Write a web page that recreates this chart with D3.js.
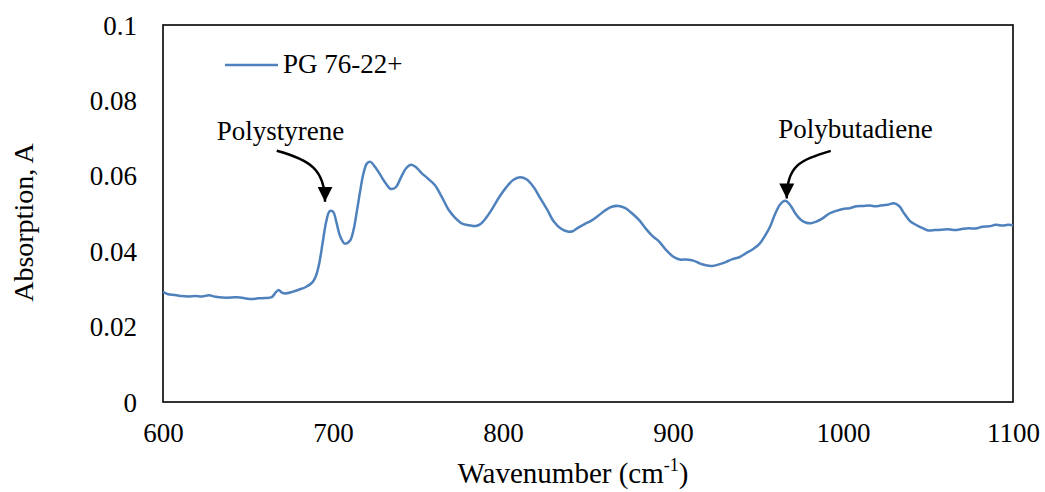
<!DOCTYPE html>
<html>
<head>
<meta charset="utf-8">
<script src="https://cdn.jsdelivr.net/npm/d3@7/dist/d3.min.js"></script>
<style>
  html, body { margin: 0; padding: 0; background: #fff; }
  svg { display: block; }
  text { font-family: "Liberation Serif", "Times New Roman", serif; fill: #000; }
</style>
</head>
<body>
<svg id="chart" width="1045" height="492"></svg>
<script>
// FTIR spectrum of the PG 76-22+ binder
const wavenumber = [
  600, 603, 607, 611, 615, 619, 623, 627, 631, 635, 640, 644, 648, 652, 656, 660, 664, 666, 668, 670,
  672, 676, 680, 684, 688, 690, 692, 694, 696, 698, 700, 702, 704, 707, 710, 712, 714, 716, 718, 720,
  722, 725, 728, 731, 734, 737, 740, 743, 746, 749, 752, 756, 760, 764, 768, 772, 776, 780, 784, 787,
  790, 794, 798, 802, 806, 810, 814, 818, 822, 826, 830, 834, 838, 841, 844, 848, 852, 856, 860, 864,
  868, 872, 876, 880, 884, 888, 892, 896, 900, 904, 908, 912, 916, 920, 923, 927, 931, 935, 939, 943,
  947, 951, 954, 957, 960, 963, 966, 969, 972, 975, 978, 981, 984, 988, 992, 996, 1000, 1004, 1008, 1012,
  1016, 1019, 1022, 1026, 1030, 1033, 1036, 1039, 1042, 1046, 1050, 1054, 1058, 1062, 1066, 1070, 1074, 1078, 1082, 1086,
  1090, 1094, 1097, 1100
];
const absorption = [
  0.0292, 0.0286, 0.0284, 0.0281, 0.0280, 0.0281, 0.0280, 0.0283, 0.0279, 0.0277, 0.0277, 0.0278, 0.0275, 0.0273, 0.0275, 0.0276, 0.0278, 0.0289, 0.0297, 0.0290,
  0.0288, 0.0292, 0.0298, 0.0305, 0.0318, 0.0335, 0.0370, 0.0425, 0.0478, 0.0506, 0.0505, 0.0477, 0.0442, 0.0420, 0.0428, 0.0455, 0.0505, 0.0560, 0.0608, 0.0633,
  0.0637, 0.0622, 0.0601, 0.0580, 0.0565, 0.0570, 0.0596, 0.0620, 0.0629, 0.0622, 0.0608, 0.0592, 0.0575, 0.0544, 0.0510, 0.0488, 0.0473, 0.0469, 0.0467, 0.0473,
  0.0488, 0.0515, 0.0545, 0.0570, 0.0589, 0.0596, 0.0590, 0.0570, 0.0540, 0.0510, 0.0478, 0.0460, 0.0452, 0.0453, 0.0462, 0.0472, 0.0481, 0.0494, 0.0508, 0.0518,
  0.0520, 0.0514, 0.0500, 0.0483, 0.0460, 0.0440, 0.0425, 0.0403, 0.0386, 0.0378, 0.0378, 0.0375, 0.0367, 0.0362, 0.0361, 0.0365, 0.0371, 0.0379, 0.0384, 0.0395,
  0.0405, 0.0420, 0.0440, 0.0464, 0.0498, 0.0524, 0.0534, 0.0522, 0.0500, 0.0484, 0.0476, 0.0474, 0.0478, 0.0487, 0.0500, 0.0507, 0.0512, 0.0514, 0.0519, 0.0520,
  0.0521, 0.0519, 0.0521, 0.0523, 0.0527, 0.0520, 0.0500, 0.0482, 0.0472, 0.0463, 0.0455, 0.0456, 0.0457, 0.0458, 0.0456, 0.0459, 0.0461, 0.0460, 0.0465, 0.0466,
  0.0470, 0.0468, 0.0470, 0.0469
];
const seriesName = "PG 76-22+";

const xTicks = [600, 700, 800, 900, 1000, 1100];
const yTicks = [0, 0.02, 0.04, 0.06, 0.08, 0.1];
const yTickLabels = ["0", "0.02", "0.04", "0.06", "0.08", "0.1"];

// Peak annotations: label text and the point the arrow tip lands on
const annotationLabels = ["Polystyrene", "Polybutadiene"];
const annotationWavenumber = [695.3, 966.9];
const annotationAbsorption = [0.0531, 0.0540];

const svg = d3.select("#chart");
const margin = { left: 163, right: 32, top: 25, bottom: 90 };
const W = 1045, H = 492;
const x = d3.scaleLinear().domain([600, 1100]).range([margin.left, W - margin.right]);
const y = d3.scaleLinear().domain([0, 0.1]).range([H - margin.bottom, margin.top]);

const data = wavenumber.map((w, i) => ({ w, a: absorption[i] }));

// Axes (labels only, no tick marks)
const xAxis = svg.append("g")
  .attr("transform", `translate(0,${y(0)})`)
  .call(d3.axisBottom(x).tickValues(xTicks).tickSize(0).tickPadding(0).tickFormat(d3.format("d")));
xAxis.select(".domain").remove();
xAxis.selectAll("text")
  .attr("y", null).attr("dy", null)
  .attr("transform", "translate(0,40)")
  .style("font-size", "27px")
  .style("font-family", "Liberation Serif, serif");

const yAxis = svg.append("g")
  .attr("transform", `translate(${margin.left},0)`)
  .call(d3.axisLeft(y).tickValues(yTicks).tickSize(0).tickPadding(26)
    .tickFormat((d, i) => yTickLabels[i]));
yAxis.select(".domain").remove();
yAxis.selectAll("text")
  .attr("dy", "0.34em")
  .style("font-size", "27px")
  .style("font-family", "Liberation Serif, serif");

// Plot frame
svg.append("rect")
  .attr("x", x(600)).attr("y", y(0.1))
  .attr("width", x(1100) - x(600)).attr("height", y(0) - y(0.1))
  .attr("fill", "none").attr("stroke", "#000").attr("stroke-width", 1.6);

// Spectrum
const line = d3.line().x(d => x(d.w)).y(d => y(d.a)).curve(d3.curveCatmullRom.alpha(0.5));
svg.append("path")
  .datum(data)
  .attr("d", line)
  .attr("fill", "none")
  .attr("stroke", "#4F81BD")
  .attr("stroke-width", 2.5)
  .attr("stroke-linejoin", "round");

// Legend
const legend = svg.append("g").attr("transform", "translate(225,65)");
legend.append("line").attr("x1", 0).attr("x2", 53).attr("y1", 0).attr("y2", 0)
  .attr("stroke", "#4F81BD").attr("stroke-width", 2.5);
legend.append("text").attr("x", 58).attr("y", 8).style("font-size", "27px").text(seriesName);

// Axis titles
svg.append("text")
  .attr("x", (x(600) + x(1100)) / 2 - 15).attr("y", 483)
  .attr("text-anchor", "middle")
  .style("font-size", "29px")
  .html('Wavenumber (cm<tspan dy="-12" font-size="18">-1</tspan><tspan dy="12">)</tspan>');

svg.append("text")
  .attr("transform", `translate(33,${(y(0) + y(0.1)) / 2 + 9}) rotate(-90)`)
  .attr("text-anchor", "middle")
  .style("font-size", "28px")
  .text("Absorption, A");

// Arrow annotations
const defs = svg.append("defs");
defs.append("marker")
  .attr("id", "arrowhead")
  .attr("viewBox", "0 0 10 10")
  .attr("refX", 10).attr("refY", 5)
  .attr("markerWidth", 15).attr("markerHeight", 15)
  .attr("markerUnits", "userSpaceOnUse")
  .attr("orient", "auto")
  .append("path").attr("d", "M0,0 L10,5 L0,10 Z").attr("fill", "#000");

// Each arrow curves from under its label down onto the peak
const arrowShapes = [
  { dx0: -48.3, dy0: -51, c1x: -15, c1y: -42, c2x: 0, c2y: -32 },
  { dx0: 44, dy0: -47.6, c1x: 13, c1y: -38, c2x: 0, c2y: -33 }
];
const labelOffsets = [{ dx: -108.3, dy: -61.7 }, { dx: -8.4, dy: -60 }];

annotationLabels.forEach((label, i) => {
  const tx = x(annotationWavenumber[i]);
  const ty = y(annotationAbsorption[i]);
  const s = arrowShapes[i];
  const p = d3.path();
  p.moveTo(tx + s.dx0, ty + s.dy0);
  p.bezierCurveTo(tx + s.c1x, ty + s.c1y, tx + s.c2x, ty + s.c2y, tx, ty);
  svg.append("path")
    .attr("d", p.toString())
    .attr("fill", "none")
    .attr("stroke", "#000")
    .attr("stroke-width", 2.5)
    .attr("marker-end", "url(#arrowhead)");
  svg.append("text")
    .attr("x", tx + labelOffsets[i].dx)
    .attr("y", ty + labelOffsets[i].dy)
    .style("font-size", "27px")
    .text(label);
});
</script>
</body>
</html>
